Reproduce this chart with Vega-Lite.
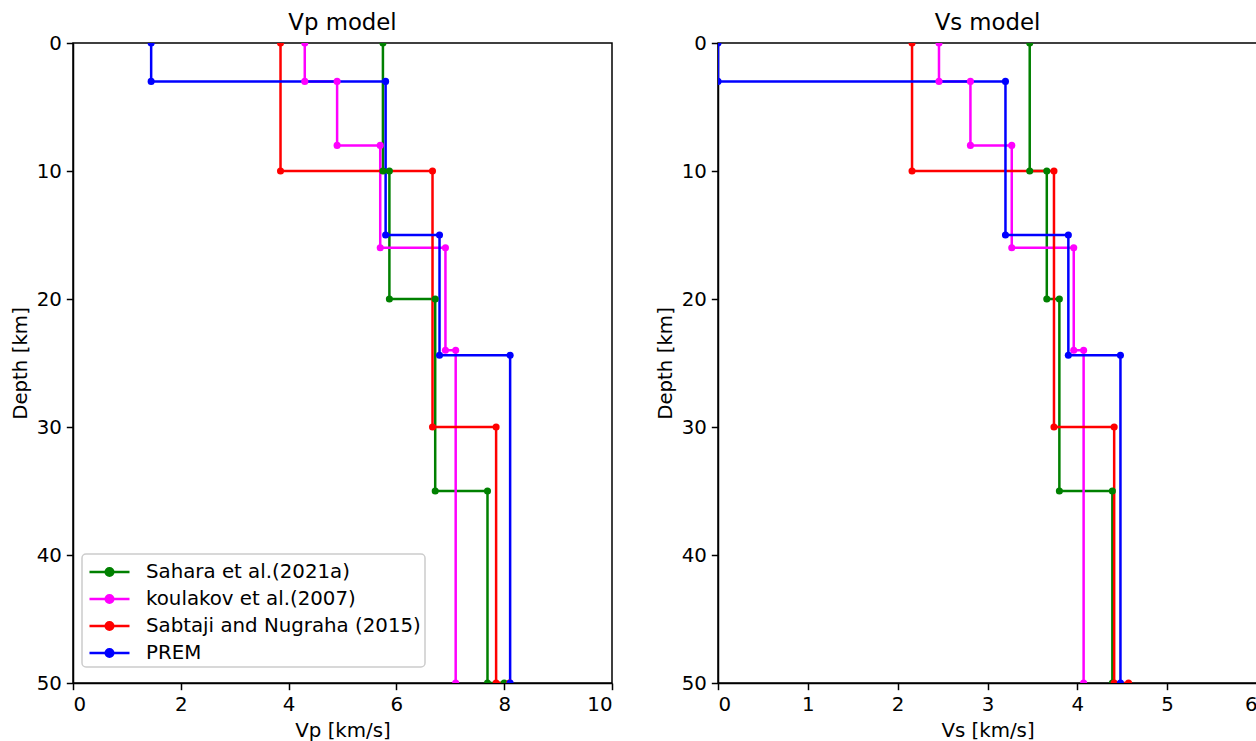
{
  "$schema": "https://vega.github.io/schema/vega-lite/v6.json",
  "background": "white",
  "padding": {"left": 9, "top": 11, "right": 0, "bottom": 0},
  "bounds": "flush",
  "spacing": 106,
  "datasets": {
    "vp": [
      {"model": "Sahara et al.(2021a)", "i": 0, "v": 5.75, "depth": 0},
      {"model": "Sahara et al.(2021a)", "i": 1, "v": 5.75, "depth": 10},
      {"model": "Sahara et al.(2021a)", "i": 2, "v": 5.87, "depth": 10},
      {"model": "Sahara et al.(2021a)", "i": 3, "v": 5.87, "depth": 20},
      {"model": "Sahara et al.(2021a)", "i": 4, "v": 6.72, "depth": 20},
      {"model": "Sahara et al.(2021a)", "i": 5, "v": 6.72, "depth": 35},
      {"model": "Sahara et al.(2021a)", "i": 6, "v": 7.69, "depth": 35},
      {"model": "Sahara et al.(2021a)", "i": 7, "v": 7.69, "depth": 50},
      {"model": "Sahara et al.(2021a)", "i": 8, "v": 8.0, "depth": 50},
      {"model": "koulakov et al.(2007)", "i": 0, "v": 4.30, "depth": 0},
      {"model": "koulakov et al.(2007)", "i": 1, "v": 4.30, "depth": 3},
      {"model": "koulakov et al.(2007)", "i": 2, "v": 4.90, "depth": 3},
      {"model": "koulakov et al.(2007)", "i": 3, "v": 4.90, "depth": 8},
      {"model": "koulakov et al.(2007)", "i": 4, "v": 5.70, "depth": 8},
      {"model": "koulakov et al.(2007)", "i": 5, "v": 5.70, "depth": 16},
      {"model": "koulakov et al.(2007)", "i": 6, "v": 6.91, "depth": 16},
      {"model": "koulakov et al.(2007)", "i": 7, "v": 6.91, "depth": 24},
      {"model": "koulakov et al.(2007)", "i": 8, "v": 7.10, "depth": 24},
      {"model": "koulakov et al.(2007)", "i": 9, "v": 7.10, "depth": 50},
      {"model": "Sabtaji and Nugraha (2015)", "i": 0, "v": 3.85, "depth": 0},
      {"model": "Sabtaji and Nugraha (2015)", "i": 1, "v": 3.85, "depth": 10},
      {"model": "Sabtaji and Nugraha (2015)", "i": 2, "v": 6.67, "depth": 10},
      {"model": "Sabtaji and Nugraha (2015)", "i": 3, "v": 6.67, "depth": 30},
      {"model": "Sabtaji and Nugraha (2015)", "i": 4, "v": 7.85, "depth": 30},
      {"model": "Sabtaji and Nugraha (2015)", "i": 5, "v": 7.85, "depth": 50},
      {"model": "Sabtaji and Nugraha (2015)", "i": 6, "v": 8.1, "depth": 50},
      {"model": "PREM", "i": 0, "v": 1.45, "depth": 0},
      {"model": "PREM", "i": 1, "v": 1.45, "depth": 3},
      {"model": "PREM", "i": 2, "v": 5.8, "depth": 3},
      {"model": "PREM", "i": 3, "v": 5.8, "depth": 15},
      {"model": "PREM", "i": 4, "v": 6.8, "depth": 15},
      {"model": "PREM", "i": 5, "v": 6.8, "depth": 24.4},
      {"model": "PREM", "i": 6, "v": 8.11, "depth": 24.4},
      {"model": "PREM", "i": 7, "v": 8.11, "depth": 50}
    ],
    "vs": [
      {"model": "Sahara et al.(2021a)", "i": 0, "v": 3.47, "depth": 0},
      {"model": "Sahara et al.(2021a)", "i": 1, "v": 3.47, "depth": 10},
      {"model": "Sahara et al.(2021a)", "i": 2, "v": 3.66, "depth": 10},
      {"model": "Sahara et al.(2021a)", "i": 3, "v": 3.66, "depth": 20},
      {"model": "Sahara et al.(2021a)", "i": 4, "v": 3.80, "depth": 20},
      {"model": "Sahara et al.(2021a)", "i": 5, "v": 3.80, "depth": 35},
      {"model": "Sahara et al.(2021a)", "i": 6, "v": 4.39, "depth": 35},
      {"model": "Sahara et al.(2021a)", "i": 7, "v": 4.39, "depth": 50},
      {"model": "koulakov et al.(2007)", "i": 0, "v": 2.46, "depth": 0},
      {"model": "koulakov et al.(2007)", "i": 1, "v": 2.46, "depth": 3},
      {"model": "koulakov et al.(2007)", "i": 2, "v": 2.81, "depth": 3},
      {"model": "koulakov et al.(2007)", "i": 3, "v": 2.81, "depth": 8},
      {"model": "koulakov et al.(2007)", "i": 4, "v": 3.27, "depth": 8},
      {"model": "koulakov et al.(2007)", "i": 5, "v": 3.27, "depth": 16},
      {"model": "koulakov et al.(2007)", "i": 6, "v": 3.96, "depth": 16},
      {"model": "koulakov et al.(2007)", "i": 7, "v": 3.96, "depth": 24},
      {"model": "koulakov et al.(2007)", "i": 8, "v": 4.07, "depth": 24},
      {"model": "koulakov et al.(2007)", "i": 9, "v": 4.07, "depth": 50},
      {"model": "Sabtaji and Nugraha (2015)", "i": 0, "v": 2.16, "depth": 0},
      {"model": "Sabtaji and Nugraha (2015)", "i": 1, "v": 2.16, "depth": 10},
      {"model": "Sabtaji and Nugraha (2015)", "i": 2, "v": 3.74, "depth": 10},
      {"model": "Sabtaji and Nugraha (2015)", "i": 3, "v": 3.74, "depth": 30},
      {"model": "Sabtaji and Nugraha (2015)", "i": 4, "v": 4.41, "depth": 30},
      {"model": "Sabtaji and Nugraha (2015)", "i": 5, "v": 4.41, "depth": 50},
      {"model": "Sabtaji and Nugraha (2015)", "i": 6, "v": 4.57, "depth": 50},
      {"model": "PREM", "i": 0, "v": 0, "depth": 0},
      {"model": "PREM", "i": 1, "v": 0, "depth": 3},
      {"model": "PREM", "i": 2, "v": 3.2, "depth": 3},
      {"model": "PREM", "i": 3, "v": 3.2, "depth": 15},
      {"model": "PREM", "i": 4, "v": 3.9, "depth": 15},
      {"model": "PREM", "i": 5, "v": 3.9, "depth": 24.4},
      {"model": "PREM", "i": 6, "v": 4.48, "depth": 24.4},
      {"model": "PREM", "i": 7, "v": 4.48, "depth": 50}
    ]
  },
  "config": {
    "font": "DejaVu Sans",
    "view": {"stroke": "black", "strokeWidth": 1.5},
    "axis": {
      "grid": false,
      "domainColor": "black",
      "domainWidth": 1.5,
      "tickColor": "black",
      "tickWidth": 1.5,
      "tickSize": 6.7,
      "labelFont": "DejaVu Sans",
      "labelFontSize": 19.8,
      "labelColor": "black",
      "labelPadding": 5,
      "titleFont": "DejaVu Sans",
      "titleFontSize": 19.8,
      "titleFontWeight": "normal",
      "titleColor": "black",
      "titlePadding": 6
    },
    "title": {
      "font": "DejaVu Sans",
      "fontSize": 22.8,
      "fontWeight": "normal",
      "color": "black",
      "anchor": "middle",
      "frame": "group",
      "baseline": "alphabetic",
      "offset": -2
    }
  },
  "resolve": {"legend": {"color": "independent"}},
  "hconcat": [
    {
      "title": "Vp model",
      "width": 539,
      "height": 640,
      "data": {"name": "vp"},
      "encoding": {
        "x": {"field": "v", "type": "quantitative", "scale": {"domain": [0, 10], "nice": false, "zero": false}, "axis": {"title": "Vp [km/s]", "values": [0, 2, 4, 6, 8, 10]}},
        "y": {"field": "depth", "type": "quantitative", "scale": {"domain": [0, 50], "reverse": true, "nice": false}, "axis": {"title": "Depth [km]", "values": [0, 10, 20, 30, 40, 50]}}
      },
      "layer": [
        {
          "mark": {"type": "line", "strokeWidth": 2.5, "clip": true},
          "encoding": {
            "order": {"field": "i", "type": "quantitative"},
            "color": {
              "field": "model", "type": "nominal",
              "scale": {"domain": ["Sahara et al.(2021a)", "koulakov et al.(2007)", "Sabtaji and Nugraha (2015)", "PREM"], "range": ["#008000", "#ff00ff", "#ff0000", "#0000ff"]},
              "legend": {
                "title": null,
                "orient": "none",
                "legendX": 9,
                "legendY": 511,
                "padding": 4,
                "fillColor": "rgba(255,255,255,0.8)",
                "strokeColor": "#cccccc",
                "cornerRadius": 4,
                "symbolSize": 650,
                "symbolType": "M-0.824,0H2.314M1.04,0A0.295,0.295 0 1,1 0.45,0A0.295,0.295 0 1,1 1.04,0Z",
                "symbolStrokeWidth": 2.5,
                "labelFont": "DejaVu Sans",
                "labelFontSize": 19.8,
                "labelColor": "black",
                "labelOffset": 32,
                "labelLimit": 500,
                "rowPadding": 3,
                "encode": {
                  "legend": {"update": {"strokeWidth": {"value": 1.5}}},
                  "symbols": {"update": {"fill": {"scale": "color", "field": "value"}, "fillOpacity": {"value": 1}, "opacity": {"value": 1}}}
                }
              }
            }
          }
        },
        {
          "mark": {"type": "point", "filled": true, "size": 50, "opacity": 1, "clip": true},
          "encoding": {"color": {"field": "model", "type": "nominal", "legend": null}}
        }
      ]
    },
    {
      "title": "Vs model",
      "width": 539,
      "height": 640,
      "data": {"name": "vs"},
      "encoding": {
        "x": {"field": "v", "type": "quantitative", "scale": {"domain": [0, 6], "nice": false, "zero": false}, "axis": {"title": "Vs [km/s]", "values": [0, 1, 2, 3, 4, 5, 6]}},
        "y": {"field": "depth", "type": "quantitative", "scale": {"domain": [0, 50], "reverse": true, "nice": false}, "axis": {"title": "Depth [km]", "values": [0, 10, 20, 30, 40, 50]}}
      },
      "layer": [
        {
          "mark": {"type": "line", "strokeWidth": 2.5, "clip": true},
          "encoding": {
            "order": {"field": "i", "type": "quantitative"},
            "color": {"field": "model", "type": "nominal", "legend": null}
          }
        },
        {
          "mark": {"type": "point", "filled": true, "size": 50, "opacity": 1, "clip": true},
          "encoding": {"color": {"field": "model", "type": "nominal", "legend": null}}
        }
      ]
    }
  ]
}
